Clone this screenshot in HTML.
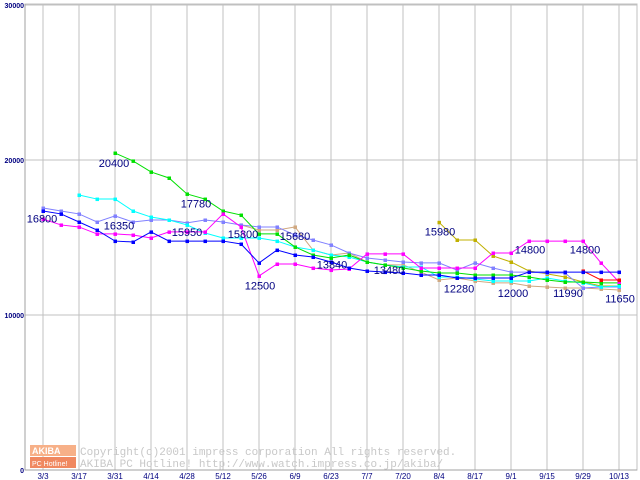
<!DOCTYPE html>
<html><head><meta charset="utf-8"><style>
body{margin:0;background:#fff}
svg{display:block;font-family:"Liberation Sans",sans-serif}
</style></head><body>
<svg id="chart" width="640" height="480" viewBox="0 0 640 480">
<rect width="640" height="480" fill="#fff"/>
<g id="grid"></g>
<g id="wm">
<rect x="30" y="445" width="46" height="11" fill="#f7b088"/>
<rect x="30" y="457" width="46" height="11" fill="#f08860"/>
<text x="32" y="454" font-size="9" fill="#fff" font-weight="bold">AKIBA</text>
<text x="32" y="466" font-size="7" fill="#fff">PC Hotline!</text>
<text x="80" y="455" font-size="11" fill="#c8c8c8" font-family="Liberation Mono,monospace">Copyright(c)2001 impress corporation All rights reserved.</text>
<text x="80" y="467" font-size="11" fill="#c8c8c8" font-family="Liberation Mono,monospace">AKIBA PC Hotline!  http://www.watch.impress.co.jp/akiba/</text>
</g>
<g id="series"></g>
<g id="labels"></g>
</svg>
<script>
const xTickLabels=["3/3","3/17","3/31","4/14","4/28","5/12","5/26","6/9","6/23","7/7","7/20","8/4","8/17","9/1","9/15","9/29","10/13"];
const yTicks=[0,10000,20000,30000];
const seriesBlue=[16710,16520,16000,15480,14770,14710,15360,14770,14770,14770,14770,14580,13360,14190,13870,13740,13420,13030,12840,12770,12710,12580,12580,12390,12390,12390,12390,12770,12770,12770,12770,12770,12770];
const seriesMagenta=[16190,15810,15680,15230,15230,15160,14970,15360,15360,15360,16520,15680,12520,13290,13290,13030,12900,12970,13940,13940,13940,13030,13030,13030,13030,14000,14000,14770,14770,14770,14770,13360,12130];
const seriesGreen=[null,null,null,null,20450,19940,19230,18840,17810,17480,16710,16450,15230,15230,14390,13870,13680,13870,13420,13230,13030,12840,12710,12710,12580,12580,12580,12450,12260,12130,12130,12070,12070];
const seriesCyan=[null,null,17740,17480,17480,16710,16320,16130,15810,15290,14970,14970,14970,14770,14390,14190,13870,13740,13420,13230,13100,13100,12450,12450,12320,12190,12190,12190,12390,12190,12070,11810,11870];
const seriesLilac=[16900,16710,16520,16000,16390,16000,16130,16130,15940,16130,16000,15810,15680,15680,15160,14840,14520,14000,13680,13550,13420,13360,13360,12900,13360,13030,12770,12770,12710,12710,11740,11810,11810];
const seriesTan=[null,null,null,null,null,null,null,null,null,null,null,15810,15480,15480,15680,14190,13870,14000,13420,13230,13230,12770,12260,12390,12190,12070,12070,11870,11810,11740,11740,11680,11610];
const seriesOlive=[null,null,null,null,null,null,null,null,null,null,null,null,null,null,null,null,null,null,null,null,null,null,15980,14840,14840,13810,13420,12840,12650,12450,12130,11870,11870];
const seriesRed=[null,null,null,null,null,null,null,null,null,null,null,null,null,null,null,null,null,null,null,null,null,null,null,null,null,null,null,null,null,null,12840,12260,12260];
const seriesList=[["tan",seriesTan,"#d0a880"],["olive",seriesOlive,"#c0b000"],["lilac",seriesLilac,"#8080ff"],["cyan",seriesCyan,"#00ffff"],["green",seriesGreen,"#00e000"],["magenta",seriesMagenta,"#ff00ff"],["red",seriesRed,"#ff0000"],["blue",seriesBlue,"#0000ff"]];
const labelTexts=["16800","20400","17780","16350","15950","15800","15680","12500","13840","13480","15980","12280","12000","14800","14800","11990","11650"];
const labelWeeks=[0,4,9,4,8,11,14,12,16,19,22,23,26,27,30,29,32];
const labelValues=[16800,20400,17780,16350,15950,15800,15680,12500,13840,13480,15980,12280,12000,14800,14800,11990,11650];
const labelDx=[-1,-1,-9,4,0,2,0,1,1,4,1,2,2,1,2,3,1];
const NS="http://www.w3.org/2000/svg";
function xOf(i){return 43+18*i;}
function yOf(v){return 470-v*0.0155;}
function mk(t,a,p){const e=document.createElementNS(NS,t);for(const k in a)e.setAttribute(k,a[k]);p.appendChild(e);return e;}
const grid=document.getElementById('grid');
mk('rect',{x:25,y:4,width:612,height:466,fill:'none',stroke:'#c0c0c0'},grid);
xTickLabels.forEach((l,k)=>{const x=xOf(2*k);
 const g=mk('line',{x1:x,x2:x,y1:4,y2:470,stroke:'#c0c0c0'},grid);
 
 
 const t=mk('text',{x:x,y:479,'font-size':8,'text-anchor':'middle',fill:'#000080'},grid);t.textContent=l;
 
 });
yTicks.forEach(v=>{const y=yOf(v);
 const g=mk('line',{x1:25,x2:637,y1:y,y2:y,stroke:'#c0c0c0'},grid);
 
 
 const t=mk('text',{x:24,y:y+3,'font-size':7,'font-weight':'bold','text-anchor':'end',fill:'#000080'},grid);t.textContent=v;
 
 });
mk('line',{x1:25,x2:25,y1:4,y2:470,stroke:'#a0a0a0'},grid);
mk('line',{x1:25,x2:637,y1:470,y2:470,stroke:'#a0a0a0'},grid);
const sg=document.getElementById('series');
seriesList.forEach(([n,d,c])=>{
 const g=mk('g',{},sg);
 
 
 let pts=[];d.forEach((v,i)=>{if(v!=null)pts.push(xOf(i)+','+yOf(v));});
 const pl=mk('polyline',{points:pts.join(' '),fill:'none',stroke:c,'stroke-width':1},g);
 
 
 d.forEach((v,i)=>{if(v==null)return;const r=mk('rect',{x:xOf(i)-1.5,y:yOf(v)-1.5,width:3.5,height:3.5,fill:c},g);
  
  });
});
const lg=document.getElementById('labels');
labelTexts.forEach((s,k)=>{const t=mk('text',{x:xOf(labelWeeks[k])+labelDx[k],y:yOf(labelValues[k])+13,'font-size':11,'text-anchor':'middle',fill:'#000080'},lg);
 t.textContent=s;
 
 });
</script>
</body></html>
